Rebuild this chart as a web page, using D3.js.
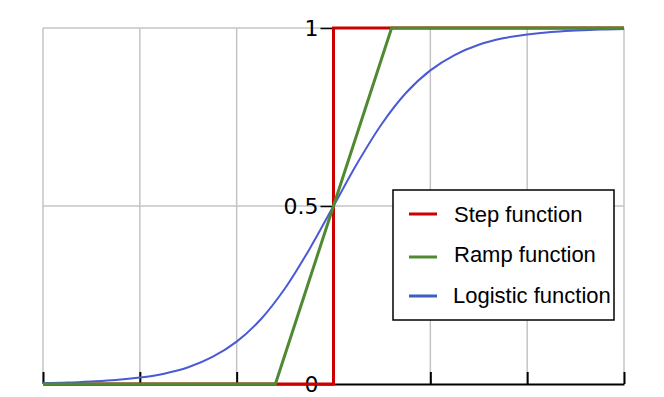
<!DOCTYPE html>
<html>
<head>
<meta charset="utf-8">
<script src="https://cdn.jsdelivr.net/npm/d3@7"></script>
<style>
  body { margin: 0; background: #fff; }
</style>
</head>
<body>
<div id="chartDiv"></div>
<script>
// data
const stepX = [-3, 0, 0, 3];
const stepY = [0, 0, 1, 1];
const rampX = [-3, -0.6, 0.6, 3];
const rampY = [0, 0, 1, 1];
const logisticX = [-3, -2.75, -2.5, -2.25, -2, -1.75, -1.5, -1.25, -1, -0.75, -0.5, -0.25, 0,
  0.25, 0.5, 0.75, 1, 1.25, 1.5, 1.75, 2, 2.25, 2.5, 2.75, 3];
const logisticY = [0.0025, 0.004, 0.007, 0.011, 0.018, 0.029, 0.047, 0.076, 0.119, 0.182, 0.269, 0.378, 0.5,
  0.622, 0.731, 0.818, 0.881, 0.924, 0.953, 0.971, 0.982, 0.989, 0.993, 0.996, 0.9975];
const xGrid = [-3, -2, -1, 1, 2, 3];
const yTicks = [0, 0.5, 1];
const yTickLabels = ['0', '0.5', '1'];
const legendNames = ['Step function', 'Ramp function', 'Logistic function'];
const colors = ['#cc0000', '#4f8a32', '#4a5ad4'];
const legendSwatch = ['#cc0000', '#4f8a32', '#3c5cc0'];

var canvasW = 664, canvasH = 397;
const svg = d3.select('#chartDiv')
	.append('svg')
	.attr('width', canvasW)
	.attr('height', canvasH);

const x = d3.scaleLinear().domain([-3, 3]).range([43, 624]);
const y = d3.scaleLinear().domain([0, 1]).range([384, 28]);

// grid
svg.append('g').selectAll('line.v')
	.data(xGrid)
	.enter().append('line')
	.attr('x1', d => x(d)).attr('x2', d => x(d))
	.attr('y1', y(1)).attr('y2', y(0))
	.attr('stroke', '#c4c4c4').attr('stroke-width', 1.5);
svg.append('g').selectAll('line.h')
	.data([0.5, 1])
	.enter().append('line')
	.attr('x1', x(-3)).attr('x2', x(3))
	.attr('y1', d => y(d)).attr('y2', d => y(d))
	.attr('stroke', '#c4c4c4').attr('stroke-width', 1.5);

// axes
const xAxis = d3.axisBottom(x).tickValues(xGrid).tickSize(-12).tickSizeOuter(0).tickFormat('');
const xAxisGroup = svg.append('g')
	.attr('transform', `translate(0, ${y(0)})`)
	.call(xAxis);
xAxisGroup.select('.domain').attr('stroke', '#000').attr('stroke-width', 2);
xAxisGroup.selectAll('.tick line').attr('stroke', '#000').attr('stroke-width', 2);

const yAxis = d3.axisLeft(y).tickValues(yTicks).tickSize(13).tickSizeOuter(0)
	.tickFormat((d, i) => yTickLabels[i]);
const yAxisGroup = svg.append('g')
	.attr('transform', `translate(${x(0)}, 0)`)
	.call(yAxis);
yAxisGroup.select('.domain').attr('stroke', '#000').attr('stroke-width', 2);
yAxisGroup.selectAll('.tick line').attr('stroke', '#000').attr('stroke-width', 1.5);
yAxisGroup.selectAll('text')
	.attr('font-family', 'DejaVu Sans')
	.attr('font-size', 22)
	.attr('fill', '#000')
	.attr('x', -15)
	.attr('dy', '0.36em');

// curves
const line = d3.line().x(d => x(d[0])).y(d => y(d[1]));
const series = [
	{pts: d3.zip(stepX, stepY), w: 3, curve: d3.curveLinear},
	{pts: d3.zip(logisticX, logisticY), w: 2, curve: d3.curveCatmullRom},
	{pts: d3.zip(rampX, rampY), w: 3, curve: d3.curveLinear}
];
const seriesColor = [colors[0], colors[2], colors[1]];
series.forEach((s, i) => {
	svg.append('path')
		.attr('d', line.curve(s.curve)(s.pts))
		.attr('fill', 'none')
		.attr('stroke', seriesColor[i])
		.attr('stroke-width', s.w)
		.attr('stroke-linejoin', 'miter');
});

// legend
const legend = svg.append('g').attr('transform', 'translate(393, 190)');
legend.append('rect')
	.attr('width', 221).attr('height', 130)
	.attr('fill', '#fff').attr('stroke', '#000').attr('stroke-width', 1.5);
const rows = legend.selectAll('g.row')
	.data(legendNames)
	.enter().append('g')
	.attr('transform', (d, i) => `translate(0, ${[24, 67, 106][i]})`);
rows.append('line')
	.attr('x1', 16).attr('x2', 44)
	.attr('stroke', (d, i) => legendSwatch[i]).attr('stroke-width', 3);
rows.append('text')
	.attr('x', (d, i) => i == 2 ? 60 : 61)
	.attr('y', (d, i) => [8, 5, 7][i])
	.attr('font-family', 'Liberation Sans, Arial, sans-serif')
	.attr('font-size', 22)
	.attr('fill', '#000')
	.text(d => d);
</script>
</body>
</html>
